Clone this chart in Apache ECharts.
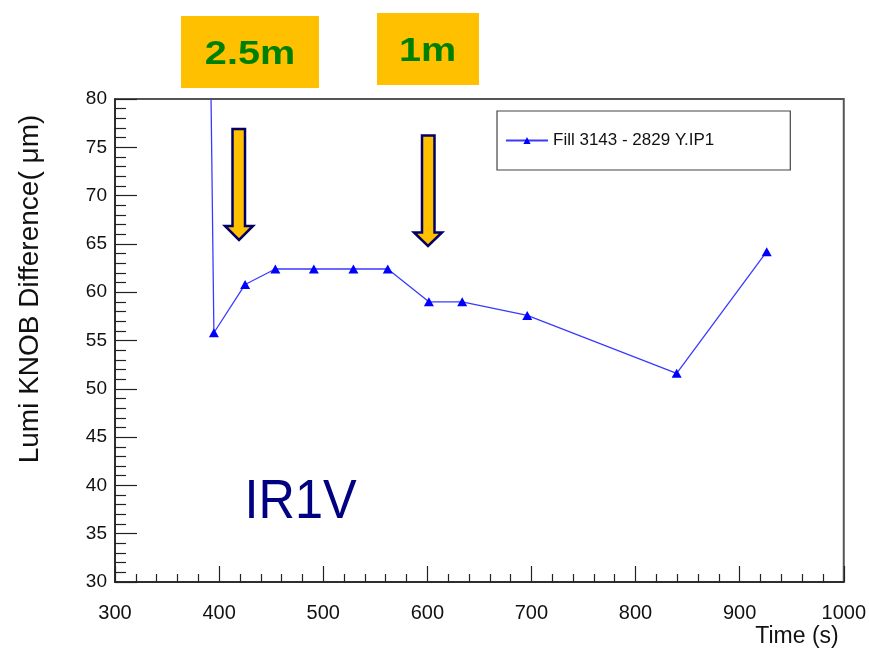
<!DOCTYPE html>
<html>
<head>
<meta charset="utf-8">
<script src="https://cdn.jsdelivr.net/npm/echarts@6/dist/echarts.min.js"></script>
<style>
  html, body { margin: 0; padding: 0; background: #fff; }
</style>
</head>
<body>
<div id="main" style="width:869px; height:653px"></div>
<script>
// time (s) and lumi knob difference (um)
var times = [390, 395, 425, 454, 491, 529, 562, 601.5, 633.5, 696, 839.5, 926];
var diffs = [100, 55.8, 60.8, 62.4, 62.4, 62.4, 62.4, 59.0, 59.0, 57.6, 51.6, 64.2];
var seriesName = "Fill 3143 - 2829 Y.IP1";
var yTitle = "Lumi KNOB Difference( \u03bcm)";
var xTitle = "Time (s)";

var points = times.map(function (t, i) { return [t, diffs[i]]; });

var chartDom = document.getElementById("main");
var myChart = echarts.init(chartDom);
var font = "Liberation Sans, Arial, sans-serif";

// yellow down arrows
function arrow(l, r, top, headY, hl, hr, tipX, tipY) {
  return {
    type: "polygon",
    shape: { points: [[l, top], [r, top], [r, headY], [hr, headY], [tipX, tipY], [hl, headY], [l, headY]] },
    style: { fill: "#FFC000", stroke: "#000066", lineWidth: 2.5 },
    z: 10
  };
}

var option = {
  backgroundColor: "#fff",
  animation: false,
  grid: {
    left: 115, right: 23, top: 99, bottom: 71,
    show: true, borderColor: "#555", borderWidth: 2
  },
  legend: {
    left: 497, top: 111,
    data: [seriesName],
    itemWidth: 42, itemHeight: 9, itemGap: 0,
    padding: [21, 76, 21, 8],
    borderColor: "#444", borderWidth: 1.2,
    textStyle: { fontFamily: font, fontSize: 17, color: "#111" }
  },
  xAxis: {
    type: "value",
    min: 300, max: 1000, interval: 100,
    name: xTitle,
    nameLocation: "end",
    nameGap: -5,
    nameTextStyle: {
      fontFamily: font, fontSize: 23, color: "#111",
      align: "right", verticalAlign: "top", padding: [43, 0, 0, 0]
    },
    axisLine: { show: true, lineStyle: { color: "#222", width: 1.5 } },
    axisTick: { show: true, inside: true, length: 16, lineStyle: { color: "#222", width: 1.2 } },
    minorTick: { show: true, splitNumber: 5, length: 8, lineStyle: { color: "#222", width: 1.2 } },
    axisLabel: {
      fontFamily: font, fontSize: 20, color: "#111", margin: 21,
      formatter: function (v) { return String(v); }
    },
    splitLine: { show: false }
  },
  yAxis: {
    type: "value",
    min: 30, max: 80, interval: 5,
    axisLine: { show: true, lineStyle: { color: "#222", width: 1.5 } },
    axisTick: { show: true, inside: true, length: 22, lineStyle: { color: "#222", width: 1.2 } },
    minorTick: { show: true, splitNumber: 5, length: 11, lineStyle: { color: "#222", width: 1.2 } },
    axisLabel: { fontFamily: font, fontSize: 19, color: "#111", margin: 8 },
    splitLine: { show: false }
  },
  series: [
    {
      name: seriesName,
      type: "line",
      data: points,
      clip: true,
      symbol: "triangle",
      symbolSize: [10, 9],
      lineStyle: { color: "#3a3aff", width: 1.3 },
      itemStyle: { color: "#0000ff" }
    }
  ],
  graphic: [
    { type: "rect", shape: { x: 181, y: 16, width: 138, height: 72 }, style: { fill: "#FFC000" } },
    { type: "rect", shape: { x: 377, y: 13, width: 102, height: 72 }, style: { fill: "#FFC000" } },
    {
      type: "text", x: 250, y: 55, scaleX: 1.2,
      style: { text: "2.5m", fill: "#008000", font: "bold 33px " + font, align: "center", verticalAlign: "middle" }
    },
    {
      type: "text", x: 427.5, y: 52, scaleX: 1.2,
      style: { text: "1m", fill: "#008000", font: "bold 33px " + font, align: "center", verticalAlign: "middle" }
    },
    arrow(232.5, 245, 129, 226, 225, 253, 239, 240),
    arrow(422, 434.5, 135.5, 232.5, 414, 442, 428, 246),
    {
      type: "text", x: 300.5, y: 503, scaleX: 0.9,
      style: { text: "IR1V", fill: "#000080", font: "56px " + font, align: "center", verticalAlign: "middle" }
    },
    {
      type: "text", x: 30, y: 289, rotation: Math.PI / 2,
      style: { text: yTitle, fill: "#111", font: "28px " + font, align: "center", verticalAlign: "middle" }
    }
  ]
};

option && myChart.setOption(option);
</script>
</body>
</html>
